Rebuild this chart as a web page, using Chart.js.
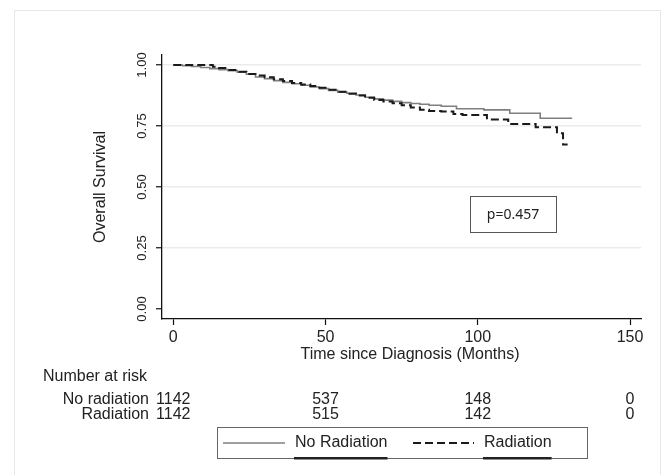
<!DOCTYPE html>
<html>
<head>
<meta charset="utf-8">
<script src="https://cdn.jsdelivr.net/npm/chart.js@4/dist/chart.umd.min.js"></script>
<style>
  html, body { margin: 0; padding: 0; background: #fff; }
  #wrap { width: 667px; height: 475px; position: relative; }
</style>
</head>
<body>
<div id="wrap"><canvas id="km" width="667" height="475"></canvas></div>
<script>
// Kaplan-Meier estimates (months, survival)
var noRadTime = [0, 3, 6, 9, 12, 15, 18, 21, 24, 27, 30, 33, 36, 39, 42, 45, 48, 51, 54, 57, 60, 63, 66, 69, 72, 75, 78, 81, 84, 88, 93, 102, 110.5, 120.5, 131];
var noRadSurv = [1.000, 0.997, 0.994, 0.990, 0.985, 0.981, 0.977, 0.970, 0.962, 0.951, 0.944, 0.936, 0.929, 0.923, 0.917, 0.910, 0.903, 0.896, 0.889, 0.884, 0.877, 0.868, 0.861, 0.856, 0.851, 0.846, 0.842, 0.839, 0.835, 0.831, 0.821, 0.816, 0.802, 0.782, 0.782];

var radTime = [0, 13, 15, 18, 21, 24, 27, 30, 33, 36, 39, 42, 45, 48, 51, 54, 57, 60, 63, 66, 69, 72, 75, 78, 81, 84, 88, 92, 95, 103, 110, 119, 126, 128, 129.5];
var radSurv = [1.000, 0.993, 0.988, 0.980, 0.972, 0.963, 0.957, 0.950, 0.942, 0.934, 0.926, 0.920, 0.914, 0.907, 0.899, 0.890, 0.882, 0.875, 0.866, 0.857, 0.850, 0.843, 0.835, 0.826, 0.817, 0.811, 0.809, 0.799, 0.795, 0.777, 0.758, 0.745, 0.720, 0.674, 0.674];

// axis ticks
var xTicks = [0, 50, 100, 150];
var yTicks = [0, 0.25, 0.5, 0.75, 1];
var yTickLabels = ["0.00", "0.25", "0.50", "0.75", "1.00"];

// number-at-risk table
var riskTimes = [0, 50, 100, 150];
var riskNoRad = [1142, 537, 148, 0];
var riskRad = [1142, 515, 142, 0];
var groupLabels = ["No radiation", "Radiation"];
var legendLabels = ["No Radiation", "Radiation"];
var pText = "p=0.457";

var FONT = '"Liberation Sans", Arial, sans-serif';
var INK = "#222";

function pts(tt, ss) {
  return tt.map(function(t, i) { return { x: t, y: ss[i] }; });
}

var decor = {
  id: "decor",
  beforeDraw: function(chart) {
    var c = chart.ctx;
    c.save();
    c.fillStyle = "#fff";
    c.fillRect(0, 0, chart.width, chart.height);
    c.strokeStyle = "#e6e6e6";
    c.lineWidth = 1;
    c.strokeRect(14.5, 10.5, 646, 470);
    c.restore();
  },
  afterDraw: function(chart) {
    var c = chart.ctx;
    var xs = chart.scales.x, ys = chart.scales.y;
    c.save();
    c.fillStyle = INK;

    // y tick labels, rotated
    c.font = "13px " + FONT;
    c.textAlign = "center";
    c.textBaseline = "middle";
    yTicks.forEach(function(v, i) {
      c.save();
      c.translate(142, ys.getPixelForValue(v));
      c.rotate(-Math.PI / 2);
      c.fillText(yTickLabels[i], 0, 0);
      c.restore();
    });

    // y title
    c.font = "16px " + FONT;
    c.save();
    c.translate(101, (ys.getPixelForValue(0) + ys.getPixelForValue(1)) / 2);
    c.rotate(-Math.PI / 2);
    c.fillText("Overall Survival", 0, 0);
    c.restore();

    // x title
    c.fillText("Time since Diagnosis (Months)", 410, 355);

    // risk table
    c.textAlign = "left";
    c.fillText("Number at risk", 43, 377);
    c.textAlign = "right";
    c.fillText(groupLabels[0], 149, 400);
    c.fillText(groupLabels[1], 149, 415);
    c.textAlign = "center";
    riskTimes.forEach(function(t, i) {
      var px = xs.getPixelForValue(t);
      c.fillText(String(riskNoRad[i]), px, 400);
      c.fillText(String(riskRad[i]), px, 415);
    });

    // p-value box
    c.strokeStyle = "#555";
    c.lineWidth = 1;
    c.strokeRect(470.5, 196.5, 86, 36);
    c.font = '14px "Noto Sans", "DejaVu Sans", sans-serif';
    c.fillText(pText, 513, 215);

    // legend
    c.strokeStyle = "#666";
    c.strokeRect(217.5, 427.5, 370, 31);
    c.lineWidth = 1.5;
    c.strokeStyle = "#7f7f7f";
    c.beginPath(); c.moveTo(223, 443); c.lineTo(285, 443); c.stroke();
    c.strokeStyle = "#1a1a1a";
    c.lineWidth = 2;
    c.setLineDash([8, 4]);
    c.beginPath(); c.moveTo(413, 443); c.lineTo(474, 443); c.stroke();
    c.setLineDash([]);
    c.font = "16px " + FONT;
    c.textAlign = "left";
    var lx = [295, 484];
    legendLabels.forEach(function(s, i) {
      c.fillText(s, lx[i], 443);
      var w = c.measureText(s).width;
      c.fillRect(lx[i] - 1, 457, w + 1, 2.5);
    });
    c.restore();
  }
};

new Chart(document.getElementById("km").getContext("2d"), {
  type: "line",
  data: {
    datasets: [
      {
        label: legendLabels[1],
        data: pts(radTime, radSurv),
        stepped: true,
        borderColor: "#1a1a1a",
        borderWidth: 2,
        borderDash: [8, 4],
        pointRadius: 0,
        fill: false,
        order: 0,
      },
      {
        label: legendLabels[0],
        data: pts(noRadTime, noRadSurv),
        stepped: true,
        borderColor: "#7f7f7f",
        borderWidth: 1.6,
        pointRadius: 0,
        fill: false,
        order: 1,
      },
    ],
  },
  options: {
    responsive: false,
    animation: false,
    devicePixelRatio: 1,
    layout: { padding: { left: 150, right: 26, top: 55, bottom: 126 } },
    plugins: { legend: { display: false }, tooltip: { enabled: false } },
    scales: {
      x: {
        type: "linear",
        min: -3.7,
        max: 153.6,
        afterFit: function(s) { s.height = 30; },
        afterBuildTicks: function(s) { s.ticks = xTicks.map(function(v) { return { value: v }; }); },
        ticks: { font: { size: 16, family: FONT }, color: INK, padding: 3, maxRotation: 0 },
        grid: { drawOnChartArea: false, tickLength: 6, tickColor: "#111", tickWidth: 1.2 },
        border: { display: true, color: "#111", width: 1.3 },
      },
      y: {
        type: "linear",
        min: -0.041,
        max: 1.041,
        afterFit: function(s) { s.width = 12; },
        afterBuildTicks: function(s) { s.ticks = yTicks.map(function(v) { return { value: v }; }); },
        ticks: { display: false },
        grid: {
          color: function(ctx) { return ctx.tick && ctx.tick.value === 0 ? "rgba(0,0,0,0)" : "#ebebeb"; },
          lineWidth: 1.5,
          tickLength: 6,
          tickColor: "#111",
          tickWidth: 1.2,
        },
        border: { display: true, color: "#111", width: 1.3 },
      },
    },
  },
  plugins: [decor],
});
</script>
</body>
</html>
